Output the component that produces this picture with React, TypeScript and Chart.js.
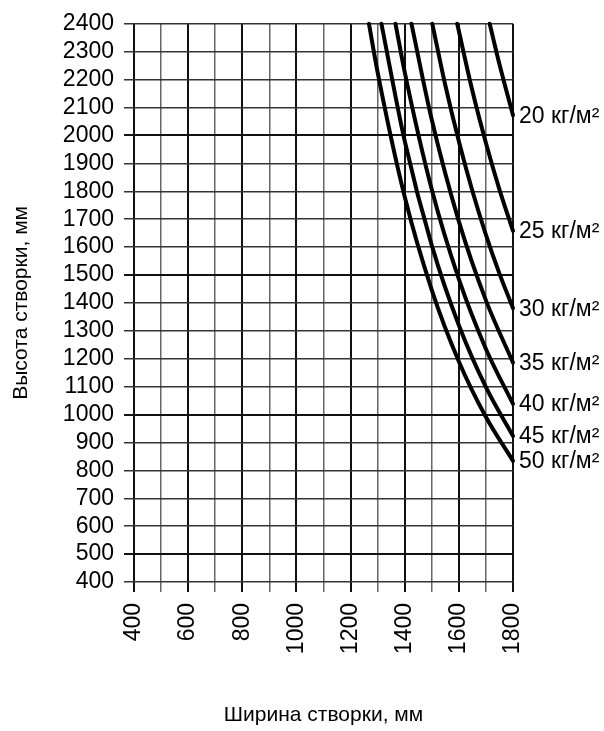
import React, { useEffect, useRef } from "react";
import { Chart, registerables } from "chart.js";

Chart.register(...registerables);

// Loads (kg/m²) for each curve
const loads = [20, 25, 30, 35, 40, 45, 50];

// Sash width (mm) / height (mm) points for each curve
const w20 = [1714, 1750, 1800];
const h20 = [2400, 2255, 2072];
const w25 = [1594, 1650, 1700, 1750, 1800];
const h25 = [2400, 2160, 1973, 1806, 1658];
const w30 = [1502, 1550, 1600, 1650, 1700, 1750, 1800];
const h30 = [2400, 2180, 1979, 1801, 1644, 1505, 1381];
const w35 = [1425, 1500, 1600, 1700, 1800];
const h35 = [2400, 2056, 1692, 1409, 1186];
const w40 = [1366, 1400, 1500, 1600, 1700, 1800];
const h40 = [2400, 2227, 1806, 1485, 1235, 1038];
const w45 = [1314, 1400, 1500, 1600, 1700, 1800];
const h45 = [2400, 1980, 1606, 1320, 1098, 923];
const w50 = [1268, 1300, 1400, 1500, 1600, 1700, 1800];
const h50 = [2400, 2226, 1780, 1446, 1190, 991, 834];

const widths = [w20, w25, w30, w35, w40, w45, w50];
const heights = [h20, h25, h30, h35, h40, h45, h50];

// Axis ranges / ticks
const xMin = 400;
const xMax = 1800;
const xStep = 100;
const yMin = 400;
const yMax = 2400;
const yStep = 100;

const xTitle = "Ширина створки, мм";
const yTitle = "Высота створки, мм";
const unit = "кг/м²";

const FONT = "'Liberation Sans', Arial, sans-serif";

const curveLabels = {
  id: "curveLabels",
  afterDatasetsDraw(chart: any) {
    const ctx = chart.ctx;
    ctx.save();
    ctx.fillStyle = "#000";
    ctx.font = `23px ${FONT}`;
    ctx.textAlign = "left";
    ctx.textBaseline = "middle";
    chart.data.datasets.forEach((ds: any, i: number) => {
      const meta = chart.getDatasetMeta(i);
      const last = meta.data[meta.data.length - 1];
      if (!last) return;
      ctx.fillText(`${loads[i]} ${unit}`, last.x + 6, last.y + 1);
    });
    ctx.restore();
  },
};

export default function App() {
  const ref = useRef<HTMLCanvasElement | null>(null);

  useEffect(() => {
    if (!ref.current) return;
    const datasets = loads.map((l, i) => ({
      label: `${l} ${unit}`,
      data: widths[i].map((x, j) => ({ x, y: heights[i][j] })),
      borderColor: "#000",
      backgroundColor: "#000",
      borderWidth: 4,
      borderCapStyle: "round" as const,
      pointRadius: 0,
      cubicInterpolationMode: "monotone" as const,
      fill: false,
      clip: false as any,
    }));

    const chart = new Chart(ref.current, {
      type: "line",
      data: { datasets },
      plugins: [curveLabels],
      options: {
        animation: false,
        responsive: false,
        maintainAspectRatio: false,
        layout: { padding: { left: 0, top: 19, right: 91, bottom: 0 } },
        plugins: {
          legend: { display: false },
          tooltip: { enabled: false },
        },
        scales: {
          x: {
            type: "linear",
            min: xMin,
            max: xMax,
            afterFit: (s: any) => {
              s.height = 149;
            },
            ticks: {
              stepSize: xStep,
              autoSkip: false,
              minRotation: 90,
              maxRotation: 90,
              padding: 11,
              color: "#000",
              font: { family: FONT, size: 23 },
              callback: (v: any) => (Number(v) % 200 === 0 ? String(v) : ""),
            },
            grid: {
              drawTicks: true,
              tickLength: 10,
              color: (c: any) => (c.tick && c.tick.value % 200 === 0 ? "#111" : "#666"),
              lineWidth: (c: any) => (c.tick && c.tick.value % 200 === 0 ? 2 : 1.5),
            },
            border: { display: false },
            title: {
              display: true,
              text: xTitle,
              color: "#000",
              font: { family: FONT, size: 21 },
              padding: { top: 0, bottom: 3 },
            },
          },
          y: {
            type: "linear",
            min: yMin,
            max: yMax,
            afterFit: (s: any) => {
              s.width = 134;
            },
            ticks: {
              stepSize: yStep,
              autoSkip: false,
              padding: 10,
              color: "#000",
              font: { family: FONT, size: 23 },
              callback: (v: any) => String(v),
            },
            grid: {
              drawTicks: true,
              tickLength: 10,
              color: (c: any) => (c.tick && c.tick.value % 500 === 0 ? "#111" : "#333"),
              lineWidth: (c: any) => (c.tick && c.tick.value % 500 === 0 ? 2 : 1.5),
            },
            border: { display: false },
            title: {
              display: true,
              text: yTitle,
              color: "#000",
              font: { family: FONT, size: 21 },
              padding: { top: 9, bottom: 0 },
            },
          },
        },
      },
    });
    return () => chart.destroy();
  }, []);

  return (
    <div style={{ position: "fixed", left: 0, top: 0, width: 604, height: 731, background: "#fff" }}>
      <canvas ref={ref} width={604} height={731} style={{ width: 604, height: 731, display: "block" }} />
    </div>
  );
}
